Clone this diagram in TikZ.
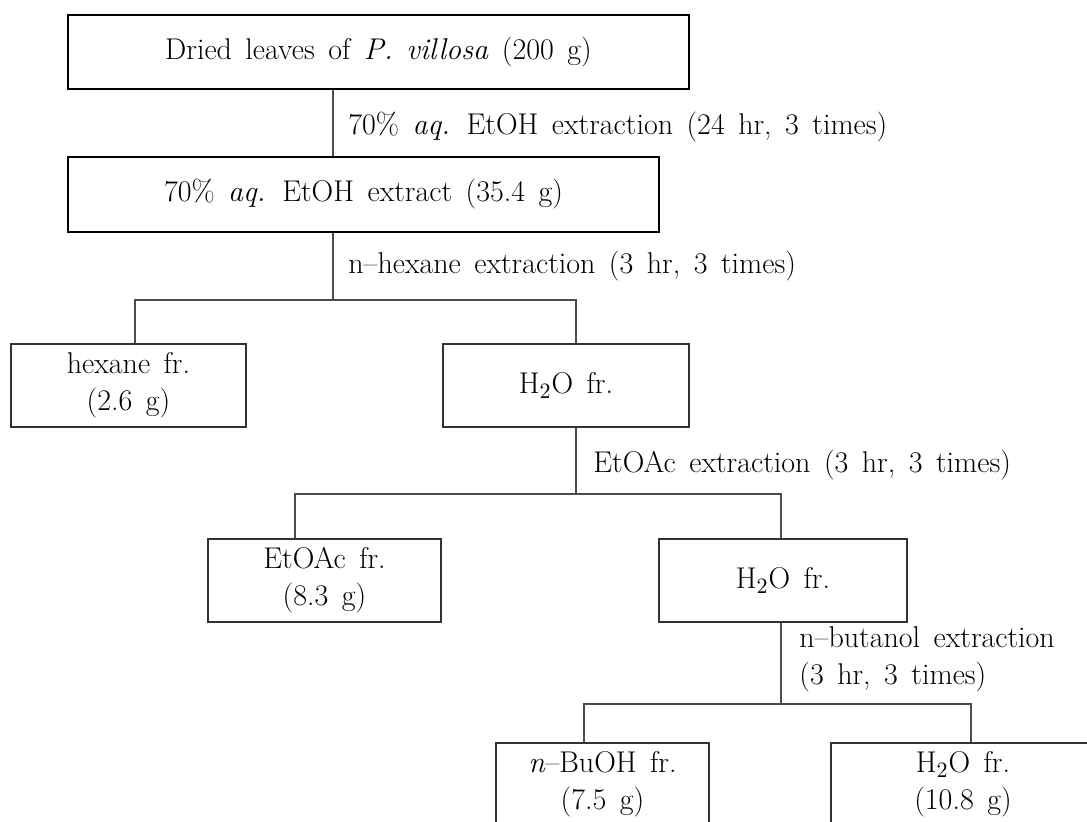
\documentclass[tikz,border=0pt]{standalone}
\usepackage{tikz}
\newcommand\widespace{\spaceskip=0.45em plus 0.1em\relax}
\begin{document}
\begin{tikzpicture}[x=0.5pt,y=-0.5pt,
  txt/.style={font=\fontsize{15}{18.5}\selectfont\widespace, align=center, inner sep=0pt},
  boxA/.style={txt, draw=black, line width=1pt, rectangle},
  boxB/.style={txt, draw=black!80, line width=0.65pt, rectangle},
  lbl/.style={txt, anchor=west, align=left},
  conn/.style={draw=black!70, line width=0.6pt}]
\clip (0,0) rectangle (1087,821);
\fill[white] (0,0) rectangle (1087,821);
% boxes
\node[boxA, minimum width=310.5pt, minimum height=37pt] (b1) at (378.5,52) {Dried leaves of \textit{P. villosa} (200 g)};
\node[boxA, minimum width=295.5pt, minimum height=37.5pt] (b2) at (363.5,194.5) {70\% \textit{aq.} EtOH extract (35.4 g)};
\node[boxB, minimum width=117.5pt, minimum height=41.5pt] (hex) at (128.5,385.5) {hexane fr.\\(2.6 g)};
\node[boxB, minimum width=123pt, minimum height=41.5pt] (wa) at (566,385.5) {H$_{\mathrm{2}}$O fr.};
\node[boxB, minimum width=116.5pt, minimum height=41.5pt] (eta) at (324.5,580.5) {EtOAc fr.\\(8.3 g)};
\node[boxB, minimum width=124pt, minimum height=41.5pt] (wb) at (783,580.5) {H$_{\mathrm{2}}$O fr.};
\node[boxB, minimum width=106.5pt, minimum height=41.5pt] (bu) at (602.5,784.5) {\textit{n}--BuOH fr.\\(7.5 g)};
\node[boxB, minimum width=132pt, minimum height=41.5pt] (wc) at (963,784.5) {H$_{\mathrm{2}}$O fr.\\(10.8 g)};
% labels
\node[lbl] (l1) at (348,127) {70\% \textit{aq.} EtOH extraction (24 hr, 3 times)};
\node[lbl] (l2) at (348,266) {n--hexane extraction (3 hr, 3 times)};
\node[lbl] (l3) at (593,465) {EtOAc extraction (3 hr, 3 times)};
\node[lbl] (l4) at (799,659) {n--butanol extraction\\(3 hr, 3 times)};
% connector coordinates
\coordinate (x1) at (333,0);
\coordinate (j1) at (333,300);
\coordinate (d1a) at (135,300);
\coordinate (d1b) at (576,300);
\coordinate (j2) at (576,494);
\coordinate (d2a) at (295,494);
\coordinate (d2b) at (781,494);
\coordinate (j3) at (781,704);
\coordinate (d3a) at (584,704);
\coordinate (d3b) at (971,704);
% connectors
\draw[conn] (b1.south -| x1) -- (b2.north -| x1);
\draw[conn] (b2.south -| j1) -- (j1);
\draw[conn] (hex.north -| d1a) -- (d1a) -- (d1b) -- (wa.north -| d1b);
\draw[conn] (wa.south -| j2) -- (j2);
\draw[conn] (eta.north -| d2a) -- (d2a) -- (d2b) -- (wb.north -| d2b);
\draw[conn] (wb.south -| j3) -- (j3);
\draw[conn] (bu.north -| d3a) -- (d3a) -- (d3b) -- (wc.north -| d3b);
\end{tikzpicture}
\end{document}
